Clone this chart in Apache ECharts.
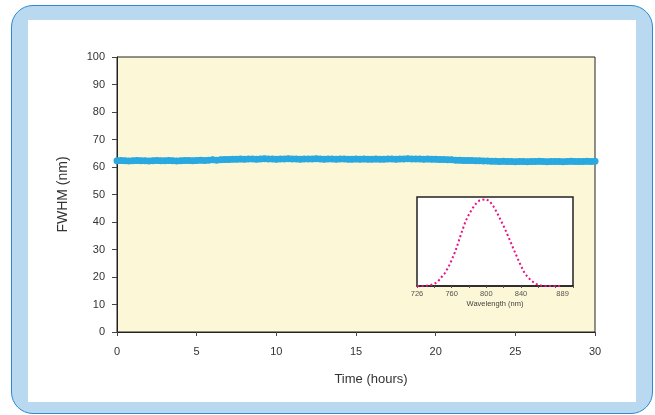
<!DOCTYPE html>
<html>
<head>
<meta charset="utf-8">
<script src="https://cdn.jsdelivr.net/npm/echarts@6/dist/echarts.min.js"></script>
<style>
html,body{margin:0;padding:0;background:#fff;}
#wrap{position:relative;width:655px;height:415px;overflow:hidden;background:#fff;}
#outer{position:absolute;left:11px;top:5px;width:640px;height:407px;border:1.5px solid #2b8ad0;border-radius:22px;background:#b9d9f1;}
#inner{position:absolute;left:28px;top:20px;width:608px;height:382px;background:#fff;}
#chart{position:absolute;left:0;top:0;width:655px;height:415px;}
</style>
</head>
<body>
<div id="wrap">
<div id="outer"></div>
<div id="inner"></div>
<div id="chart"></div>
</div>
<script>
// Main series: FWHM (nm) vs time (hours)
var hours = [0,0.25,0.5,0.75,1,1.25,1.5,1.75,2,2.25,2.5,2.75,3,3.25,3.5,3.75,4,4.25,4.5,4.75,5,5.25,5.5,5.75,6,6.25,6.5,6.75,7,
7.25,7.5,7.75,8,8.25,8.5,8.75,9,9.25,9.5,9.75,10,10.25,10.5,10.75,11,11.25,11.5,11.75,12,12.25,12.5,12.75,13,13.25,13.5,13.75,14,14.25,14.5,14.75,15,15.25,15.5,15.75,16,16.25,16.5,16.75,17,17.25,17.5,17.75,18,18.25,18.5,18.75,19,19.25,19.5,19.75,20,
20.25,20.5,20.75,21,21.25,21.5,21.75,22,22.25,22.5,22.75,23,
23.25,23.5,23.75,24,24.25,24.5,24.75,25,25.25,25.5,25.75,26,26.25,26.5,26.75,27,27.25,27.5,27.75,28,28.25,28.5,28.75,29,29.25,29.5,29.75,30];
var fwhm = [62.3,62.4,62.3,62.2,62.3,62.4,62.3,62.3,62.2,62.3,62.4,62.3,62.3,62.4,62.3,62.2,62.3,62.4,62.4,62.3,62.4,62.5,62.4,62.5,62.6,62.5,62.6,62.7,62.7,
62.8,62.8,62.9,62.8,62.9,62.9,62.8,62.9,63.0,62.9,62.9,62.8,62.9,62.9,63.0,62.9,62.9,62.8,62.9,62.9,62.9,63.0,62.9,62.8,62.9,62.9,62.8,62.9,62.9,62.8,62.8,62.9,62.8,62.9,62.8,62.8,62.9,62.8,62.8,62.9,62.9,62.8,62.9,62.9,63.0,62.9,62.9,62.9,62.8,62.9,62.8,62.8,
62.7,62.7,62.6,62.6,62.5,62.5,62.4,62.4,62.4,62.3,62.3,62.2,
62.2,62.1,62.1,62.0,62.1,62.0,62.0,61.9,62.0,62.0,61.9,62.0,62.0,62.1,62.0,61.9,62.0,62.0,62.0,61.9,62.0,62.1,62.0,62.0,62.0,62.1,62.0,62.1];
var yTicks = [0,10,20,30,40,50,60,70,80,90,100];
var xTicks = [0,5,10,15,20,25,30];

// Inset: spectrum (normalised intensity vs wavelength)
var wavelengths = ['726','729','733','736','740','743','746','750','753','757','760',
'764','768','772','776','780','784','788','792','796','800',
'804','808','812','816','820','824','828','832','836','840',
'844','848','852','856','860','864','868','872','876','881','885','889','893','897','901'];
var intensity = [0,0,0,0.005,0.011,0.025,0.049,0.096,0.143,0.207,0.29,
0.385,0.5,0.617,0.727,0.805,0.872,0.925,0.96,0.97,0.974,
0.951,0.898,0.83,0.752,0.673,0.586,0.494,0.402,0.312,0.226,
0.147,0.098,0.06,0.03,0.012,0.004,0,0,0,0,0,0,null,null,null];
var insetLabels = ['726','760','800','840','889'];

var FONT = "'Liberation Sans',Arial,sans-serif";
var chart = echarts.init(document.getElementById('chart'), null, {renderer:'canvas'});
var mainData = hours.map(function(h,i){return [h,fwhm[i]];});
chart.setOption({
  backgroundColor:'transparent',
  animation:false,
  grid:[
    {left:117,top:57,width:478,height:275,show:true,backgroundColor:'#fcf7d7',borderColor:'#222',borderWidth:1},
    {left:417,top:197,width:156,height:89,show:true,backgroundColor:'#ffffff',borderColor:'#222',borderWidth:1.5,z:5}
  ],
  xAxis:[
    {type:'value',gridIndex:0,min:0,max:30,interval:5,
     name:'Time (hours)',nameLocation:'middle',nameGap:41,
     nameTextStyle:{fontFamily:FONT,fontSize:13,color:'#333',padding:[0,0,0,30]},
     axisLine:{show:true,onZero:false,lineStyle:{color:'#222',width:1}},
     axisTick:{show:true,length:4,lineStyle:{color:'#444'}},
     axisLabel:{fontFamily:FONT,fontSize:11,color:'#333',margin:14},
     splitLine:{show:false}},
    {type:'category',gridIndex:1,data:wavelengths,boundaryGap:false,
     name:'Wavelength (nm)',nameLocation:'middle',nameGap:14,
     nameTextStyle:{fontFamily:FONT,fontSize:7.5,color:'#444'},
     axisLine:{show:true,lineStyle:{color:'#222',width:1.5}},
     axisTick:{show:true,length:2,interval:4,lineStyle:{color:'#555'}},
     axisLabel:{fontFamily:FONT,fontSize:7.5,color:'#555',margin:4,
       interval:function(idx,val){return insetLabels.indexOf(val)>=0;}},
     splitLine:{show:false},z:6}
  ],
  yAxis:[
    {type:'value',gridIndex:0,min:0,max:100,interval:10,
     name:'FWHM (nm)',nameLocation:'middle',nameGap:47,
     nameTextStyle:{fontFamily:FONT,fontSize:14,color:'#333'},
     axisLine:{show:true,lineStyle:{color:'#222',width:1}},
     axisTick:{show:true,length:5,lineStyle:{color:'#444'}},
     axisLabel:{fontFamily:FONT,fontSize:11,color:'#333',margin:12},
     splitLine:{show:false}},
    {type:'value',gridIndex:1,min:0,max:1,show:false}
  ],
  series:[
    {type:'line',xAxisIndex:0,yAxisIndex:0,data:mainData,
     symbol:'circle',symbolSize:7,showSymbol:true,
     lineStyle:{color:'#2aa8e0',width:6},
     itemStyle:{color:'#2aa8e0',borderColor:'#2aa8e0',borderWidth:0},z:3},
    {type:'line',xAxisIndex:1,yAxisIndex:1,data:intensity,
     symbol:'none',smooth:false,connectNulls:false,
     lineStyle:{color:'#e8118a',width:2,type:[2,2.5]},z:7}
  ]
});
</script>
</body>
</html>
